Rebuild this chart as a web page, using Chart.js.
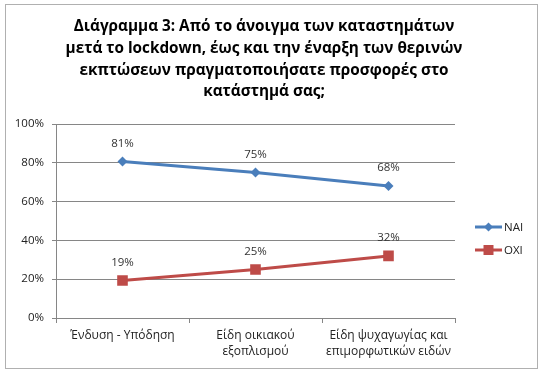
<!DOCTYPE html>
<html><head><meta charset="utf-8">
<script src="https://cdn.jsdelivr.net/npm/chart.js@4/dist/chart.umd.min.js"></script>
<style>html,body{margin:0;padding:0;background:#fff}#wrap{width:544px;height:374px}</style>
</head><body><div id="wrap"><canvas id="c" width="544" height="374"></canvas></div>
<script>
const titleLines = ["Διάγραμμα 3: Από το άνοιγμα των καταστημάτων","μετά το lockdown, έως και την έναρξη των θερινών","εκπτώσεων πραγματοποιήσατε προσφορές στο","κατάστημά σας;"];
const categories = [["Ένδυση - Υπόδηση"],["Είδη οικιακού","εξοπλισμού"],["Είδη ψυχαγωγίας και","επιμορφωτικών ειδών"]];
const seriesNames = ["NAI","OXI"];
const naiValues = [80.7, 75, 68];
const oxiValues = [19.3, 25, 32];
const yTicks = [0,20,40,60,80,100];
const FONT = "'Open Sans', sans-serif";

const framePlugin = {
  id:'frame',
  beforeDraw(chart){
    const ctx=chart.ctx;
    ctx.save();
    ctx.fillStyle='#fff';ctx.fillRect(0,0,chart.width,chart.height);
    ctx.strokeStyle='#b0b0b0';ctx.lineWidth=1;
    ctx.strokeRect(5.5,4.5,532,364);
    ctx.fillStyle='#000';ctx.textAlign='center';ctx.textBaseline='middle';
    ctx.font="bold 15.3px "+FONT;
    titleLines.forEach((t,i)=>ctx.fillText(t,264,27+i*21.6));
    ctx.restore();
  },
  afterDatasetsDraw(chart){
    const ctx=chart.ctx;
    ctx.save();
    ctx.font="11.5px "+FONT;ctx.fillStyle='#333';ctx.textAlign='center';ctx.textBaseline='middle';
    chart.data.datasets.forEach((ds,di)=>{
      chart.getDatasetMeta(di).data.forEach((pt,i)=>{
        ctx.fillText(Math.round(ds.data[i])+'%',pt.x,pt.y-18);
      });
    });
    // legend
    chart.data.datasets.forEach((ds,di)=>{
      const y=227+di*23;
      ctx.strokeStyle=ds.borderColor;ctx.lineWidth=3;
      ctx.beginPath();ctx.moveTo(475,y);ctx.lineTo(502,y);ctx.stroke();
      ctx.fillStyle=ds.pointBackgroundColor;
      ctx.beginPath();
      if(ds.pointStyle==='rectRot'){ctx.moveTo(488.5,y-4.5);ctx.lineTo(493,y);ctx.lineTo(488.5,y+4.5);ctx.lineTo(484,y);ctx.closePath();}
      else{ctx.rect(483.5,y-5,10,10);}
      ctx.fill();
      ctx.fillStyle='#222';ctx.textAlign='left';
      ctx.font="11.5px "+FONT;
      ctx.fillText(ds.label,504,y+0.5);
    });
    ctx.restore();
  }
};

new Chart(document.getElementById('c'),{
  type:'line',
  data:{labels:categories,datasets:[
    {label:seriesNames[0],data:naiValues,borderColor:'#4a7ebb',backgroundColor:'#4a7ebb',pointBackgroundColor:'#4a7ebb',pointBorderColor:'#4a7ebb',borderWidth:3,pointStyle:'rectRot',pointRadius:5,pointBorderWidth:0,tension:0},
    {label:seriesNames[1],data:oxiValues,borderColor:'#be4b48',backgroundColor:'#be4b48',pointBackgroundColor:'#be4b48',pointBorderColor:'#be4b48',borderWidth:3,pointStyle:'rect',pointRadius:7.5,pointBorderWidth:0,tension:0}
  ]},
  options:{
    responsive:false,animation:false,
    layout:{padding:{left:0,right:89,top:124,bottom:0}},
    plugins:{legend:{display:false},title:{display:false},tooltip:{enabled:false}},
    scales:{
      x:{offset:true,
        grid:{offset:true,drawOnChartArea:false,drawTicks:true,tickLength:5,color:'#868686'},
        border:{color:'#868686'},
        ticks:{font:{family:FONT,size:12,lineHeight:1.35},color:'#222',padding:4,maxRotation:0,autoSkip:false},
        afterFit(s){s.height=56;}
      },
      y:{min:0,max:100,
        afterBuildTicks(s){s.ticks=yTicks.map(v=>({value:v}));},
        grid:{color:'#868686',tickLength:4},
        border:{color:'#868686'},
        ticks:{font:{family:FONT,size:11.5},color:'#222',padding:8,callback:v=>v+'%'},
        afterFit(s){s.width=56;}
      }
    }
  },
  plugins:[framePlugin]
});
</script></body></html>
